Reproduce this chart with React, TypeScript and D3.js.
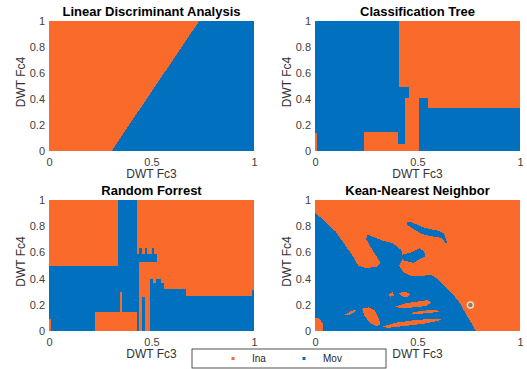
import React, { useEffect, useRef } from 'react';
import * as d3 from 'd3';

type Pt = [number, number];

const INA = '#FA6A2A';
const MOV = '#0070BF';

const classes = ['Ina', 'Mov'];
const xTicks = [0, 0.5, 1];
const yTicks = [0, 0.2, 0.4, 0.6, 0.8, 1];

// Linear Discriminant Analysis: Mov side of the line
const ldaMov: Pt[][] = [[[0.305, 0], [1, 0], [1, 1], [0.733, 1]]];

// Classification Tree: Ina leaves on a Mov background
const treeIna: Pt[][] = [
  [[0.411, 1], [1, 1], [1, 0.332], [0.551, 0.332], [0.551, 0.409], [0.505, 0.409], [0.505, 0],
   [0.24, 0], [0.24, 0.143], [0.405, 0.143], [0.405, 0.054], [0.44, 0.054], [0.44, 0.409],
   [0.46, 0.409], [0.46, 0.489], [0.411, 0.489]],
  [[0, 0], [0.012, 0], [0.012, 0.14], [0, 0.14]],
];

// Random Forrest: Mov regions on an Ina background
const forestMov: Pt[][] = [
  [[0, 0.09], [0, 0.495], [0.337, 0.495], [0.337, 1], [0.428, 1], [0.428, 0.53], [0.44, 0.53],
   [0.44, 0], [0.428, 0], [0.428, 0.147], [0.358, 0.147], [0.358, 0.295], [0.346, 0.295],
   [0.346, 0.147], [0.224, 0.147], [0.224, 0], [0.012, 0], [0.012, 0.09]],
  [[0.424, 0.53], [0.525, 0.53], [0.525, 0.588], [0.512, 0.588], [0.512, 0.634], [0.5, 0.634],
   [0.5, 0.588], [0.48, 0.588], [0.48, 0.634], [0.468, 0.634], [0.468, 0.588], [0.452, 0.588],
   [0.452, 0.634], [0.44, 0.634], [0.44, 0.588], [0.424, 0.588]],
  [[0.452, 0], [0.47, 0], [0.47, 0.262], [0.452, 0.262]],
  [[0.495, 0], [1, 0], [1, 0.311], [0.99, 0.311], [0.99, 0.268], [0.667, 0.268], [0.667, 0.324],
   [0.561, 0.324], [0.561, 0.37], [0.545, 0.37], [0.545, 0.395], [0.52, 0.395], [0.52, 0.37],
   [0.505, 0.37], [0.505, 0.4], [0.495, 0.4]],
];

// Kean-Nearest Neighbor: Mov regions, then Ina holes inside them
const knnMov: Pt[][] = [
  [[0, 0.906], [0.1, 0.76], [0.19, 0.56], [0.21, 0.5], [0.25, 0.48], [0.3, 0.49], [0.32, 0.52],
   [0.28, 0.62], [0.25, 0.7], [0.254, 0.738], [0.28, 0.72], [0.33, 0.69], [0.38, 0.67],
   [0.42, 0.62], [0.43, 0.56], [0.41, 0.5], [0.43, 0.45], [0.47, 0.42], [0.52, 0.42],
   [0.56, 0.43], [0.58, 0.42], [0.62, 0.36], [0.66, 0.3], [0.7, 0.23], [0.74, 0.12],
   [0.77, 0.04], [0.785, 0], [0.04, 0], [0.04, 0.05], [0.02, 0.1], [0, 0.1]],
  [[0.42, 0.58], [0.47, 0.6], [0.51, 0.63], [0.53, 0.61], [0.54, 0.57], [0.51, 0.55],
   [0.48, 0.52], [0.43, 0.54]],
  [[0.448, 0.834], [0.47, 0.83], [0.53, 0.79], [0.6, 0.765], [0.63, 0.745], [0.645, 0.67],
   [0.635, 0.67], [0.62, 0.71], [0.58, 0.72], [0.52, 0.74], [0.47, 0.79], [0.45, 0.81]],
];
const knnIna: Pt[][] = [
  [[0.36, 0.28], [0.38, 0.3], [0.385, 0.27], [0.365, 0.26]],
  [[0.41, 0.29], [0.44, 0.3], [0.465, 0.28], [0.45, 0.26], [0.42, 0.265]],
  [[0.39, 0.185], [0.44, 0.21], [0.5, 0.225], [0.55, 0.235], [0.57, 0.22], [0.54, 0.19],
   [0.48, 0.18], [0.42, 0.175]],
  [[0.14, 0.12], [0.18, 0.155], [0.2, 0.16], [0.19, 0.14], [0.16, 0.12]],
  [[0.23, 0.17], [0.26, 0.18], [0.29, 0.16], [0.31, 0.1], [0.32, 0.05], [0.3, 0.035],
   [0.27, 0.06], [0.24, 0.12]],
  [[0.32, 0.03], [0.4, 0.065], [0.5, 0.085], [0.6, 0.095], [0.62, 0.085], [0.55, 0.06],
   [0.45, 0.04], [0.36, 0.025]],
  [[0.46, 0.135], [0.52, 0.155], [0.59, 0.16], [0.61, 0.15], [0.57, 0.14], [0.5, 0.13]],
];
const knnPoint: Pt = [0.758, 0.198];

const panels = [
  { title: 'Linear Discriminant Analysis', left: 49, top: 21, bottom: 151, base: INA,
    layers: [{ fill: MOV, polys: ldaMov }] },
  { title: 'Classification Tree', left: 315, top: 21, bottom: 151, base: MOV,
    layers: [{ fill: INA, polys: treeIna }] },
  { title: 'Random Forrest', left: 49, top: 200, bottom: 331, base: INA,
    layers: [{ fill: MOV, polys: forestMov }] },
  { title: 'Kean-Nearest Neighbor', left: 315, top: 200, bottom: 331, base: INA,
    layers: [{ fill: MOV, polys: knnMov }, { fill: INA, polys: knnIna }], point: knnPoint },
];

const FONT = '"Liberation Sans", Arial, Helvetica, sans-serif';

const App = () => {
  const ref = useRef<SVGSVGElement>(null);

  useEffect(() => {
    const svg = d3.select(ref.current);
    svg.selectAll('*').remove();
    svg.style('font-family', FONT);

    panels.forEach(p => {
      const x = d3.scaleLinear().domain([0, 1]).range([p.left, p.left + 205]);
      const y = d3.scaleLinear().domain([0, 1]).range([p.bottom, p.top]);
      const g = svg.append('g');

      g.append('rect')
        .attr('x', x(0)).attr('y', y(1))
        .attr('width', x(1) - x(0)).attr('height', y(0) - y(1))
        .attr('fill', p.base);

      const line = d3.line<Pt>().x(d => x(d[0])).y(d => y(d[1]));
      p.layers.forEach(l => {
        g.append('g').selectAll('path')
          .data(l.polys)
          .enter().append('path')
          .attr('d', d => line(d) + 'Z')
          .attr('fill', l.fill)
          .attr('shape-rendering', 'crispEdges');
      });

      if (p.point) {
        g.append('circle')
          .attr('cx', x(p.point[0])).attr('cy', y(p.point[1]))
          .attr('r', 3)
          .attr('fill', '#7f7f7f')
          .attr('stroke', '#f2dcb8')
          .attr('stroke-width', 1.5);
      }

      const xa = g.append('g')
        .attr('transform', `translate(0,${p.bottom})`)
        .call(d3.axisBottom(x).tickValues(xTicks).tickSize(0).tickPadding(7).tickFormat(d => String(d)));
      const ya = g.append('g')
        .attr('transform', `translate(${p.left},0)`)
        .call(d3.axisLeft(y).tickValues(yTicks).tickSize(0).tickPadding(4).tickFormat(d => String(d)));
      [xa, ya].forEach(a => {
        a.select('.domain').remove();
        a.selectAll('text').attr('font-size', 11).attr('fill', '#404040').attr('font-family', FONT);
      });

      const mid = (p.left + p.left + 205) / 2;
      g.append('text')
        .attr('x', mid).attr('y', p.top - 5)
        .attr('text-anchor', 'middle')
        .attr('font-size', 13).attr('font-weight', 'bold')
        .attr('fill', '#000')
        .text(p.title);

      g.append('text')
        .attr('x', mid).attr('y', p.bottom + 27)
        .attr('text-anchor', 'middle')
        .attr('font-size', 12).attr('fill', '#333')
        .text('DWT Fc3');

      g.append('text')
        .attr('transform', `translate(${p.left - 24},${(p.top + p.bottom) / 2 - 4}) rotate(-90)`)
        .attr('text-anchor', 'middle')
        .attr('font-size', 12).attr('fill', '#333')
        .text('DWT Fc4');
    });

    // legend
    const legend = svg.append('g');
    legend.append('rect')
      .attr('x', 192).attr('y', 349).attr('width', 194).attr('height', 19)
      .attr('fill', '#fff').attr('stroke', '#262626').attr('stroke-width', 0.8);
    const colors = [INA, MOV];
    const xs = [233, 304];
    legend.selectAll('rect.m')
      .data(classes)
      .enter().append('rect')
      .attr('class', 'm')
      .attr('x', (d, i) => xs[i] - 1.5).attr('y', 357)
      .attr('width', 3).attr('height', 3)
      .attr('fill', (d, i) => colors[i]);
    legend.selectAll('text')
      .data(classes)
      .enter().append('text')
      .attr('x', (d, i) => xs[i] + 19)
      .attr('y', 362)
      .attr('font-size', 10).attr('fill', '#262626')
      .text(d => d);
  }, []);

  return (
    <svg ref={ref} width="527" height="369" style={{ position: 'absolute', left: 0, top: 0, background: '#fff' }}></svg>
  );
};

export default App;
